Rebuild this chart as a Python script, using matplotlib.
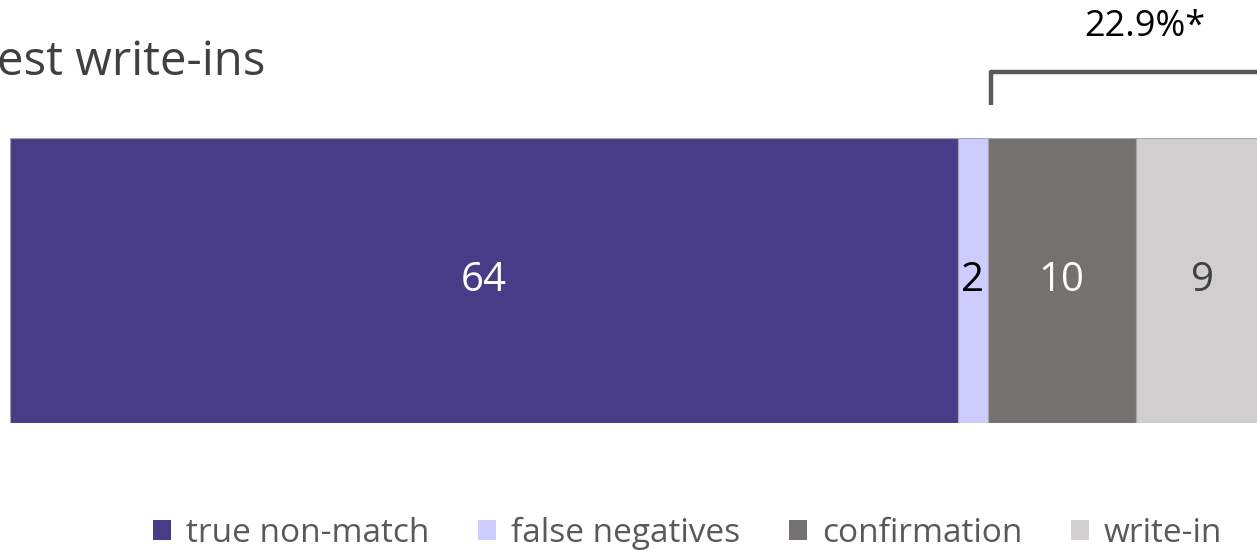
import matplotlib.pyplot as plt

# data
categories = ["true non-match", "false negatives", "confirmation", "write-in"]
values = [64, 2, 10, 9]
colors = ["#483C88", "#CCCCFF", "#767171", "#D0CECE"]
label_colors = ["white", "black", "white", "#404040"]
bracket_label = "22.9%*"

plt.rcParams['font.family'] = ['Open Sans', 'DejaVu Sans']

fig = plt.figure(figsize=(12.57, 5.52), dpi=100)
ax = fig.add_axes([10 / 1257, 0.2337, 1 - 10 / 1257, 0.5163])

left = 0
for cat, v, c, lc in zip(categories, values, colors, label_colors):
    ax.barh(0, v, left=left, height=1.0, color=c, edgecolor="#A6A6A6",
            linewidth=0.8, label=cat)
    ax.text(left + v / 2, 0, str(v), ha="center", va="center",
            color=lc, fontsize=29)
    left += v

ax.set_xlim(0, 84.19)
ax.set_ylim(-0.5, 0.5)
ax.axis("off")

# bracket over confirmation + write-in
bx = 66.2
ax.plot([bx, bx, 95], [0.616, 0.732, 0.732], color="#595959", lw=3.2,
        solid_joinstyle="round", solid_capstyle="butt", clip_on=False)
ax.text(76.6, 0.89, bracket_label, ha="center", va="center",
        fontsize=26, color="black", clip_on=False)

# partially visible title
fig.text(-0.002, 0.864, "est write-ins", ha="left", va="baseline",
         fontsize=34, color="#404040")

ax.legend(loc="center", bbox_to_anchor=(0.547, 0.034), bbox_transform=fig.transFigure,
          ncol=4, frameon=False, fontsize=24, handlelength=0.55, handleheight=0.55,
          handletextpad=0.45, columnspacing=1.45, labelcolor="#595959")
leg = ax.get_legend()
for h in leg.legend_handles:
    h.set_edgecolor("none")

plt.savefig("out.png", dpi=100)
